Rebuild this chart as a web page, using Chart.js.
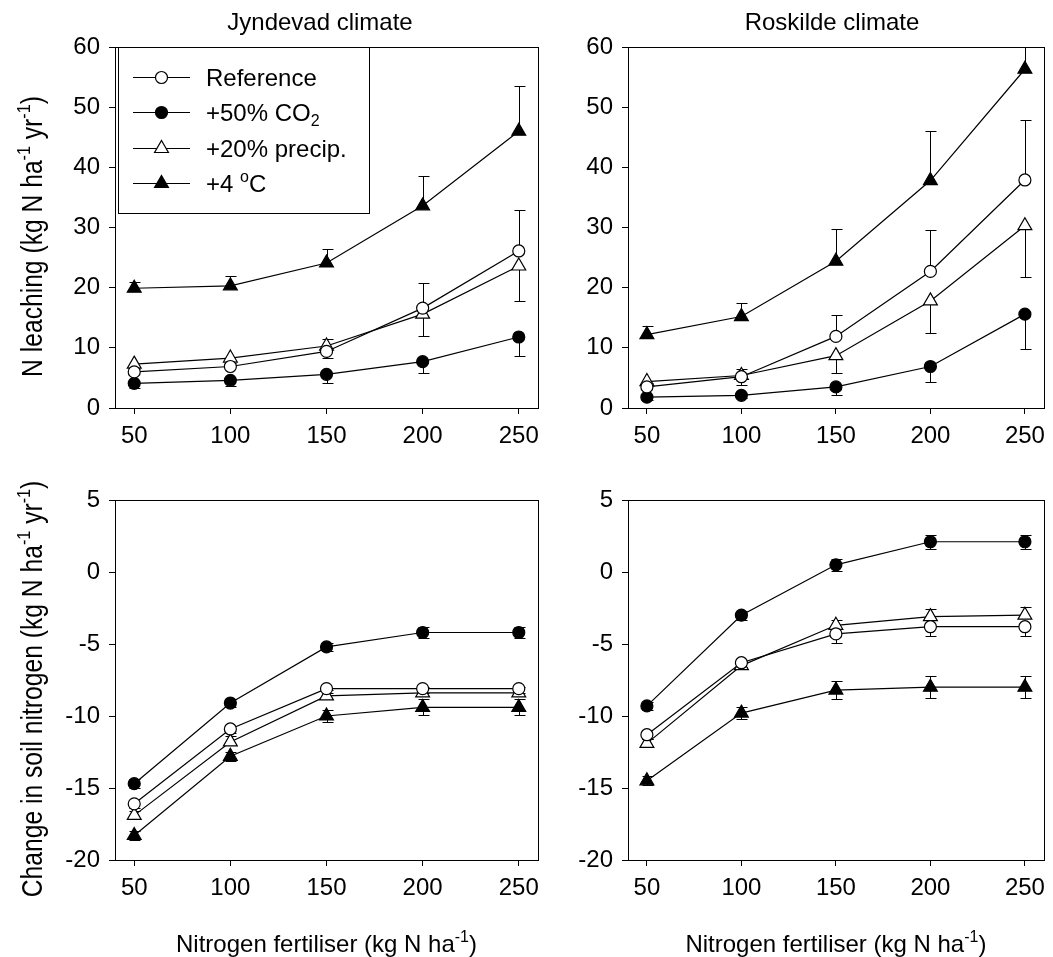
<!DOCTYPE html>
<html>
<head>
<meta charset="utf-8">
<script src="https://cdn.jsdelivr.net/npm/chart.js@4/dist/chart.umd.min.js"></script>
<style>
  html, body { margin: 0; padding: 0; background: #fff; }
  #wrap { position: relative; width: 1053px; height: 957px; }
  #wrap canvas { position: absolute; left: 0; top: 0; }
</style>
</head>
<body>
<div id="wrap">
  <canvas id="c0" width="1053" height="957"></canvas>
  <canvas id="c1" width="1053" height="957"></canvas>
  <canvas id="c2" width="1053" height="957"></canvas>
  <canvas id="c3" width="1053" height="957"></canvas>
</div>
<script>
// fertiliser rates (x categories)
const nRates = [50, 100, 150, 200, 250];
const seriesNames = ['Reference', '+50% CO2', '+20% precip.', '+4 oC'];
const leachTicks = [0, 10, 20, 30, 40, 50, 60];
const soilTicks = [-20, -15, -10, -5, 0, 5];

// N leaching, Jyndevad climate
const jynLeachRef = [6.0, 6.9, 9.4, 16.6, 26.1];
const jynLeachCO2 = [4.1, 4.6, 5.6, 7.7, 11.8];
const jynLeachPrecip = [7.3, 8.3, 10.3, 15.6, 23.6];
const jynLeachTemp = [19.9, 20.3, 24.1, 33.6, 46.0];
const jynLeachRefErr = [0.5, 0.6, 2.0, 4.1, 6.8];
const jynLeachCO2Err = [0.8, 1.0, 1.4, 1.8, 3.2];
const jynLeachPrecipErr = [0.5, 0.5, 2.0, 3.6, 5.8];
const jynLeachTempErr = [1.1, 1.7, 2.3, 4.9, 7.6];

// N leaching, Roskilde climate
const roskLeachRef = [3.5, 5.2, 11.9, 22.7, 37.9];
const roskLeachCO2 = [1.8, 2.1, 3.5, 6.9, 15.6];
const roskLeachPrecip = [4.4, 5.4, 8.7, 17.8, 30.3];
const roskLeachTemp = [12.2, 15.2, 24.4, 37.8, 56.3];
const roskLeachRefErr = [0.6, 1.3, 3.5, 6.9, 10.0];
const roskLeachCO2Err = [0.4, 0.5, 1.4, 2.6, 5.8];
const roskLeachPrecipErr = [0.5, 1.6, 2.8, 5.3, 8.5];
const roskLeachTempErr = [1.4, 2.3, 5.4, 8.3, 10.0];

// change in soil N, Jyndevad climate
const jynSoilRef = [-16.1, -10.9, -8.1, -8.1, -8.1];
const jynSoilCO2 = [-14.7, -9.1, -5.2, -4.2, -4.2];
const jynSoilPrecip = [-16.9, -11.8, -8.6, -8.4, -8.4];
const jynSoilTemp = [-18.3, -12.8, -10.0, -9.4, -9.4];
const jynSoilRefErr = [0.3, 0.3, 0.3, 0.3, 0.3];
const jynSoilCO2Err = [0.3, 0.3, 0.3, 0.4, 0.4];
const jynSoilPrecipErr = [0.3, 0.4, 0.4, 0.4, 0.4];
const jynSoilTempErr = [0.3, 0.3, 0.4, 0.55, 0.55];

// change in soil N, Roskilde climate
const roskSoilRef = [-11.3, -6.3, -4.3, -3.8, -3.8];
const roskSoilCO2 = [-9.3, -3.0, 0.5, 2.1, 2.1];
const roskSoilPrecip = [-11.9, -6.5, -3.7, -3.1, -3.0];
const roskSoilTemp = [-14.5, -9.8, -8.2, -8.0, -8.0];
const roskSoilRefErr = [0.3, 0.3, 0.6, 0.65, 0.65];
const roskSoilCO2Err = [0.3, 0.3, 0.4, 0.5, 0.5];
const roskSoilPrecipErr = [0.3, 0.3, 0.4, 0.5, 0.55];
const roskSoilTempErr = [0.3, 0.4, 0.6, 0.75, 0.75];

const FONT = "'Liberation Sans', Arial, sans-serif";
const W = 1053, H = 957;

// marker look for each series: ref, co2, precip, temp
const markers = [
  { pointStyle: 'circle', radius: 6, fill: '#fff' },
  { pointStyle: 'circle', radius: 6, fill: '#000' },
  { pointStyle: 'triangle', radius: 8, fill: '#fff' },
  { pointStyle: 'triangle', radius: 8, fill: '#000' }
];
// which side the error bars are drawn on, per series
const leachErrDir = ['up', 'down', 'down', 'up'];
const soilErrDir = ['down', 'both', 'up', 'both'];

// text with sub/superscripts, parts = [[text, kind], ...]
function richWidth(ctx, parts, size) {
  let w = 0;
  parts.forEach(([t, k]) => {
    ctx.font = (k ? Math.round(size * 0.65) : size) + 'px ' + FONT;
    w += ctx.measureText(t).width;
  });
  return w;
}
function drawRich(ctx, parts, x, y, size, align) {
  let cx = x;
  if (align === 'center') cx = x - richWidth(ctx, parts, size) / 2;
  ctx.textAlign = 'left';
  ctx.textBaseline = 'alphabetic';
  ctx.fillStyle = '#000';
  parts.forEach(([t, k]) => {
    const s = k ? Math.round(size * 0.65) : size;
    ctx.font = s + 'px ' + FONT;
    let dy = 0;
    if (k === 'sup') dy = -size * 0.42;
    if (k === 'sub') dy = size * 0.22;
    ctx.fillText(t, cx, y + dy);
    cx += ctx.measureText(t).width;
  });
}

const errBars = {
  id: 'errBars',
  beforeDatasetsDraw(chart) {
    const { ctx, chartArea: a } = chart;
    const xs = chart.scales.x, ys = chart.scales.y;
    ctx.save();
    ctx.beginPath();
    ctx.rect(a.left, a.top, a.right - a.left, a.bottom - a.top);
    ctx.clip();
    ctx.strokeStyle = '#000';
    ctx.lineWidth = 1;
    chart.data.datasets.forEach(ds => {
      ds.data.forEach((p, i) => {
        const e = ds.err[i];
        const px = Math.round(xs.getPixelForValue(p.x)) + 0.5;
        const y0 = Math.round(ys.getPixelForValue(p.y)) + 0.5;
        const ends = [];
        if (ds.errDir !== 'down') ends.push(Math.round(ys.getPixelForValue(p.y + e)) + 0.5);
        if (ds.errDir !== 'up') ends.push(Math.round(ys.getPixelForValue(p.y - e)) + 0.5);
        ctx.beginPath();
        ends.forEach(ye => {
          ctx.moveTo(px, y0); ctx.lineTo(px, ye);
          ctx.moveTo(px - 5, ye); ctx.lineTo(px + 6, ye);
        });
        ctx.stroke();
      });
    });
    ctx.restore();
  },
  afterDraw(chart) {
    const { ctx, chartArea: a } = chart;
    const o = chart.options.plugins.deco;
    ctx.save();
    ctx.strokeStyle = '#000';
    ctx.lineWidth = 1;
    ctx.strokeRect(Math.round(a.left) + 0.5, Math.round(a.top) + 0.5,
      Math.round(a.right - a.left), Math.round(a.bottom - a.top));
    if (o.title) drawRich(ctx, [[o.title, '']], o.titleX, 30, 24, 'center');
    if (o.xTitle) {
      drawRich(ctx, [['Nitrogen fertiliser (kg N ha', ''], ['-1', 'sup'], [')', '']],
        (a.left + a.right) / 2, 952, 24, 'center');
    }
    if (o.yTitle) {
      ctx.save();
      ctx.translate(42, (a.top + a.bottom) / 2 + 9);
      ctx.rotate(-Math.PI / 2);
      ctx.scale(0.85, 1);
      drawRich(ctx, o.yTitle, 0, 0, 29, 'center');
      ctx.restore();
    }
    if (o.legend) {
      const lx = 118, ly = 47, lw = 251, lh = 166;
      ctx.fillStyle = '#fff';
      ctx.fillRect(lx, ly, lw, lh);
      ctx.strokeRect(lx + 0.5, ly + 0.5, lw, lh);
      const labels = [
        [['Reference', '']],
        [['+50% CO', ''], ['2', 'sub']],
        [['+20% precip.', '']],
        [['+4 ', ''], ['o', 'sup'], ['C', '']]
      ];
      const rows = [77, 112, 148, 183];
      rows.forEach((ry, i) => {
        ctx.strokeStyle = '#000';
        ctx.lineWidth = 1.2;
        ctx.beginPath();
        ctx.moveTo(133, ry + 0.5); ctx.lineTo(190, ry + 0.5);
        ctx.stroke();
        const m = markers[i];
        ctx.fillStyle = m.fill;
        Chart.helpers.drawPoint(ctx, { pointStyle: m.pointStyle, radius: m.radius, rotation: 0, borderWidth: 1.2 }, 161.5, ry + 0.5);
        drawRich(ctx, labels[i], 206, ry + 9, 24, 'left');
      });
    }
    ctx.restore();
  }
};

function makeSets(vals, errs, dirs) {
  return vals.map((v, i) => ({
    label: seriesNames[i],
    data: v.map((y, j) => ({ x: nRates[j], y: y })),
    err: errs[i],
    errDir: dirs[i],
    borderColor: '#000',
    borderWidth: 1.2,
    pointStyle: markers[i].pointStyle,
    pointRadius: markers[i].radius,
    pointBackgroundColor: markers[i].fill,
    pointBorderColor: '#000',
    pointBorderWidth: 1.2,
    tension: 0
  }));
}

function makeChart(id, box, sets, yMin, yMax, yTicks, deco) {
  const axisFont = { family: FONT, size: 24 };
  return new Chart(document.getElementById(id), {
    type: 'line',
    data: { datasets: sets },
    options: {
      responsive: false,
      animation: false,
      devicePixelRatio: 1,
      layout: { padding: { left: box.L - 50, right: W - box.R, top: box.T, bottom: H - box.B - 50 } },
      plugins: { legend: { display: false }, tooltip: { enabled: false }, deco: deco },
      scales: {
        x: {
          type: 'linear', min: 40, max: 260,
          afterBuildTicks: s => { s.ticks = nRates.map(v => ({ value: v })); },
          afterFit: s => { s.height = 50; s.paddingLeft = 0; s.paddingRight = 0; },
          grid: { drawOnChartArea: false, drawTicks: true, tickLength: 6, color: '#000' },
          border: { color: '#000', width: 1 },
          ticks: { color: '#000', font: axisFont, padding: 8, maxRotation: 0 }
        },
        y: {
          type: 'linear', min: yMin, max: yMax,
          afterBuildTicks: s => { s.ticks = yTicks.map(v => ({ value: v })); },
          afterFit: s => { s.width = 50; s.paddingTop = 0; s.paddingBottom = 0; },
          grid: { drawOnChartArea: false, drawTicks: true, tickLength: 6, color: '#000' },
          border: { color: '#000', width: 1 },
          ticks: { color: '#000', font: axisFont, padding: 9 }
        }
      }
    },
    plugins: [errBars]
  });
}

const leachYTitle = [['N leaching (kg N ha', ''], ['-1', 'sup'], [' yr', ''], ['-1', 'sup'], [')', '']];
const soilYTitle = [['Change in soil nitrogen (kg N ha', ''], ['-1', 'sup'], [' yr', ''], ['-1', 'sup'], [')', '']];

makeChart('c0', { L: 115, R: 538, T: 47, B: 408 },
  makeSets([jynLeachRef, jynLeachCO2, jynLeachPrecip, jynLeachTemp],
    [jynLeachRefErr, jynLeachCO2Err, jynLeachPrecipErr, jynLeachTempErr], leachErrDir),
  0, 60, leachTicks,
  { title: 'Jyndevad climate', titleX: 320, yTitle: leachYTitle, legend: true });

makeChart('c1', { L: 628, R: 1048, T: 47, B: 408 },
  makeSets([roskLeachRef, roskLeachCO2, roskLeachPrecip, roskLeachTemp],
    [roskLeachRefErr, roskLeachCO2Err, roskLeachPrecipErr, roskLeachTempErr], leachErrDir),
  0, 60, leachTicks,
  { title: 'Roskilde climate', titleX: 832 });

makeChart('c2', { L: 115, R: 538, T: 500, B: 860 },
  makeSets([jynSoilRef, jynSoilCO2, jynSoilPrecip, jynSoilTemp],
    [jynSoilRefErr, jynSoilCO2Err, jynSoilPrecipErr, jynSoilTempErr], soilErrDir),
  -20, 5, soilTicks,
  { xTitle: true, yTitle: soilYTitle });

makeChart('c3', { L: 628, R: 1048, T: 500, B: 860 },
  makeSets([roskSoilRef, roskSoilCO2, roskSoilPrecip, roskSoilTemp],
    [roskSoilRefErr, roskSoilCO2Err, roskSoilPrecipErr, roskSoilTempErr], soilErrDir),
  -20, 5, soilTicks,
  { xTitle: true });
</script>
</body>
</html>
